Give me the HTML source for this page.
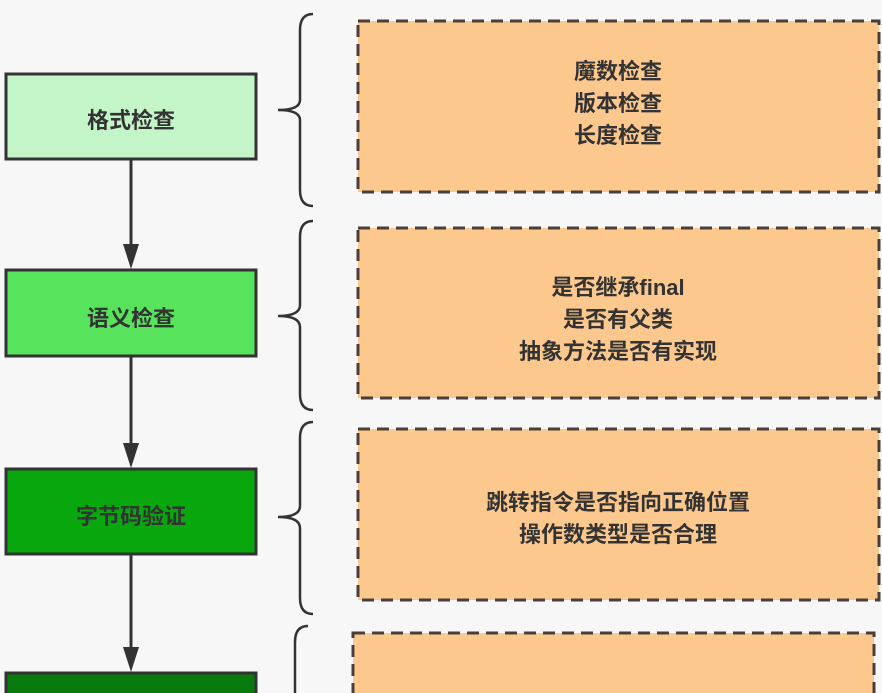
<!DOCTYPE html>
<html><head><meta charset="utf-8"><style>
html,body{margin:0;padding:0;background:#f7f7f7;}
svg{display:block;}
text{font-family:"Liberation Sans","Noto Sans CJK SC",sans-serif;font-weight:bold;fill:#333;}
</style></head><body>
<svg width="882" height="693" viewBox="0 0 882 693" xmlns="http://www.w3.org/2000/svg">
<rect width="882" height="693" fill="#f7f7f7"/>
<!-- green nodes -->
<rect x="6" y="74" width="250" height="85" fill="#c4f5c8" stroke="#333" stroke-width="3"/>
<text x="131" y="128" font-size="22" text-anchor="middle">格式检查</text>
<rect x="6" y="270" width="250" height="86" fill="#57e35b" stroke="#333" stroke-width="3"/>
<text x="131" y="326" font-size="22" text-anchor="middle">语义检查</text>
<rect x="6" y="469" width="250" height="85" fill="#07a70d" stroke="#333" stroke-width="3"/>
<text x="131" y="524" font-size="22" text-anchor="middle">字节码验证</text>
<rect x="6" y="673" width="250" height="40" fill="#087a0c" stroke="#333" stroke-width="3"/>
<!-- arrows -->
<g stroke="#333" stroke-width="3">
<line x1="131" y1="160" x2="131" y2="256"/>
<line x1="131" y1="357" x2="131" y2="455"/>
<line x1="131" y1="555" x2="131" y2="660"/>
</g>
<g fill="#333">
<path d="M123,244 L139,244 L131,269 Z"/>
<path d="M123,443 L139,443 L131,468 Z"/>
<path d="M123,647 L139,647 L131,672 Z"/>
</g>
<!-- braces -->
<g fill="none" stroke="#333" stroke-width="2.5">
<path d="M313,14 Q300,14 300,30 L300,100 Q300,110 278,110 Q300,110 300,120 L300,190 Q300,206 313,206"/>
<path d="M313,221 Q300,221 300,237 L300,305 Q300,316 278,316 Q300,316 300,327 L300,394 Q300,410 313,410"/>
<path d="M313,422 Q300,422 300,438 L300,506 Q300,517 278,517 Q300,517 300,528 L300,598 Q300,614 313,614"/>
<path d="M308,626 Q295,626 295,642 L295,700"/>
</g>
<!-- orange boxes -->
<g fill="#fdc88e" stroke="#4a3f38" stroke-width="3" stroke-dasharray="12,7">
<rect x="358" y="21" width="521" height="171"/>
<rect x="358" y="228" width="521" height="170"/>
<rect x="358" y="429" width="521" height="171"/>
<rect x="353" y="633" width="521" height="80"/>
</g>
<g font-size="22" text-anchor="middle">
<text x="618" y="79">魔数检查</text>
<text x="618" y="111">版本检查</text>
<text x="618" y="143">长度检查</text>
<text x="618" y="295">是否继承final</text>
<text x="618" y="327">是否有父类</text>
<text x="618" y="359">抽象方法是否有实现</text>
<text x="618" y="510">跳转指令是否指向正确位置</text>
<text x="618" y="542">操作数类型是否合理</text>
</g>
</svg>
</body></html>
